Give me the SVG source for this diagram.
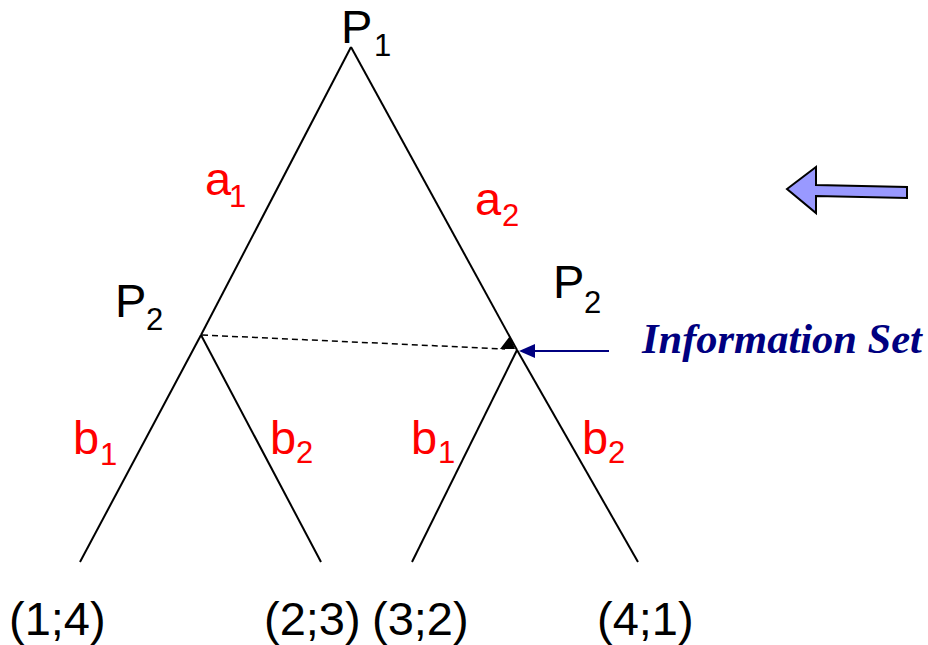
<svg xmlns="http://www.w3.org/2000/svg" width="928" height="645" viewBox="0 0 928 645">
<style>
.edge{stroke:#000;stroke-width:2;fill:none}
.t{font-family:"Liberation Sans",Arial,sans-serif;fill:#000}
.r{font-family:"Liberation Sans",Arial,sans-serif;fill:#ff0000}
.m{font-size:47px}
.s{font-size:31px}
.info{font-family:"Liberation Serif","Times New Roman",serif;font-weight:bold;font-style:italic;font-size:42.5px;fill:#000080}
</style>
<rect width="928" height="645" fill="#fff"/>
<g id="connectors">
<line class="edge" x1="351" y1="47" x2="201" y2="335"/>
<line class="edge" x1="351" y1="47" x2="517" y2="350"/>
<line class="edge" x1="201" y1="335" x2="80" y2="562"/>
<line class="edge" x1="201" y1="335" x2="321" y2="562"/>
<line class="edge" x1="517" y1="350" x2="412" y2="562"/>
<line class="edge" x1="517" y1="350" x2="638" y2="562"/>
<line x1="202" y1="335" x2="505" y2="349" stroke="#000" stroke-width="1.5" stroke-dasharray="6,4"/>
<polygon points="500,349 510,336 515,349" fill="#000"/>
<line x1="532" y1="351" x2="609" y2="351" stroke="#000080" stroke-width="2"/>
<polygon points="519,351 535,344 535,358" fill="#000080"/>
</g>
<g id="p1"><text class="t m" x="341" y="43">P</text><text class="t s" x="374" y="56">1</text></g>
<g id="p2-left"><text class="t m" x="115" y="317">P</text><text class="t s" x="146" y="330">2</text></g>
<g id="p2-right"><text class="t m" x="553" y="298">P</text><text class="t s" x="584" y="313">2</text></g>
<g id="a1"><text class="r m" x="205" y="195">a</text><text class="r s" x="229" y="207">1</text></g>
<g id="a2"><text class="r m" x="475" y="215">a</text><text class="r s" x="502" y="226">2</text></g>
<g id="b1-left"><text class="r m" x="73" y="454">b</text><text class="r s" x="100" y="465">1</text></g>
<g id="b2-left"><text class="r m" x="270" y="454">b</text><text class="r s" x="296" y="463">2</text></g>
<g id="b1-right"><text class="r m" x="411" y="454">b</text><text class="r s" x="438" y="463">1</text></g>
<g id="b2-right"><text class="r m" x="582" y="454">b</text><text class="r s" x="608" y="463">2</text></g>
<g id="leaf1"><text class="t m" x="9" y="635">(1;4)</text></g>
<g id="leaf2"><text class="t m" x="264" y="635">(2;3)</text></g>
<g id="leaf3"><text class="t m" x="372" y="635">(3;2)</text></g>
<g id="leaf4"><text class="t m" x="597" y="635">(4;1)</text></g>
<g id="info-label"><text class="info" x="642" y="353">Information Set</text></g>
<g id="big-arrow"><polygon points="787,189 816,167 816,185 907,187 907,198 816,196 816,213" fill="#9999ff" stroke="#000" stroke-width="2" stroke-linejoin="miter"/></g>
</svg>
